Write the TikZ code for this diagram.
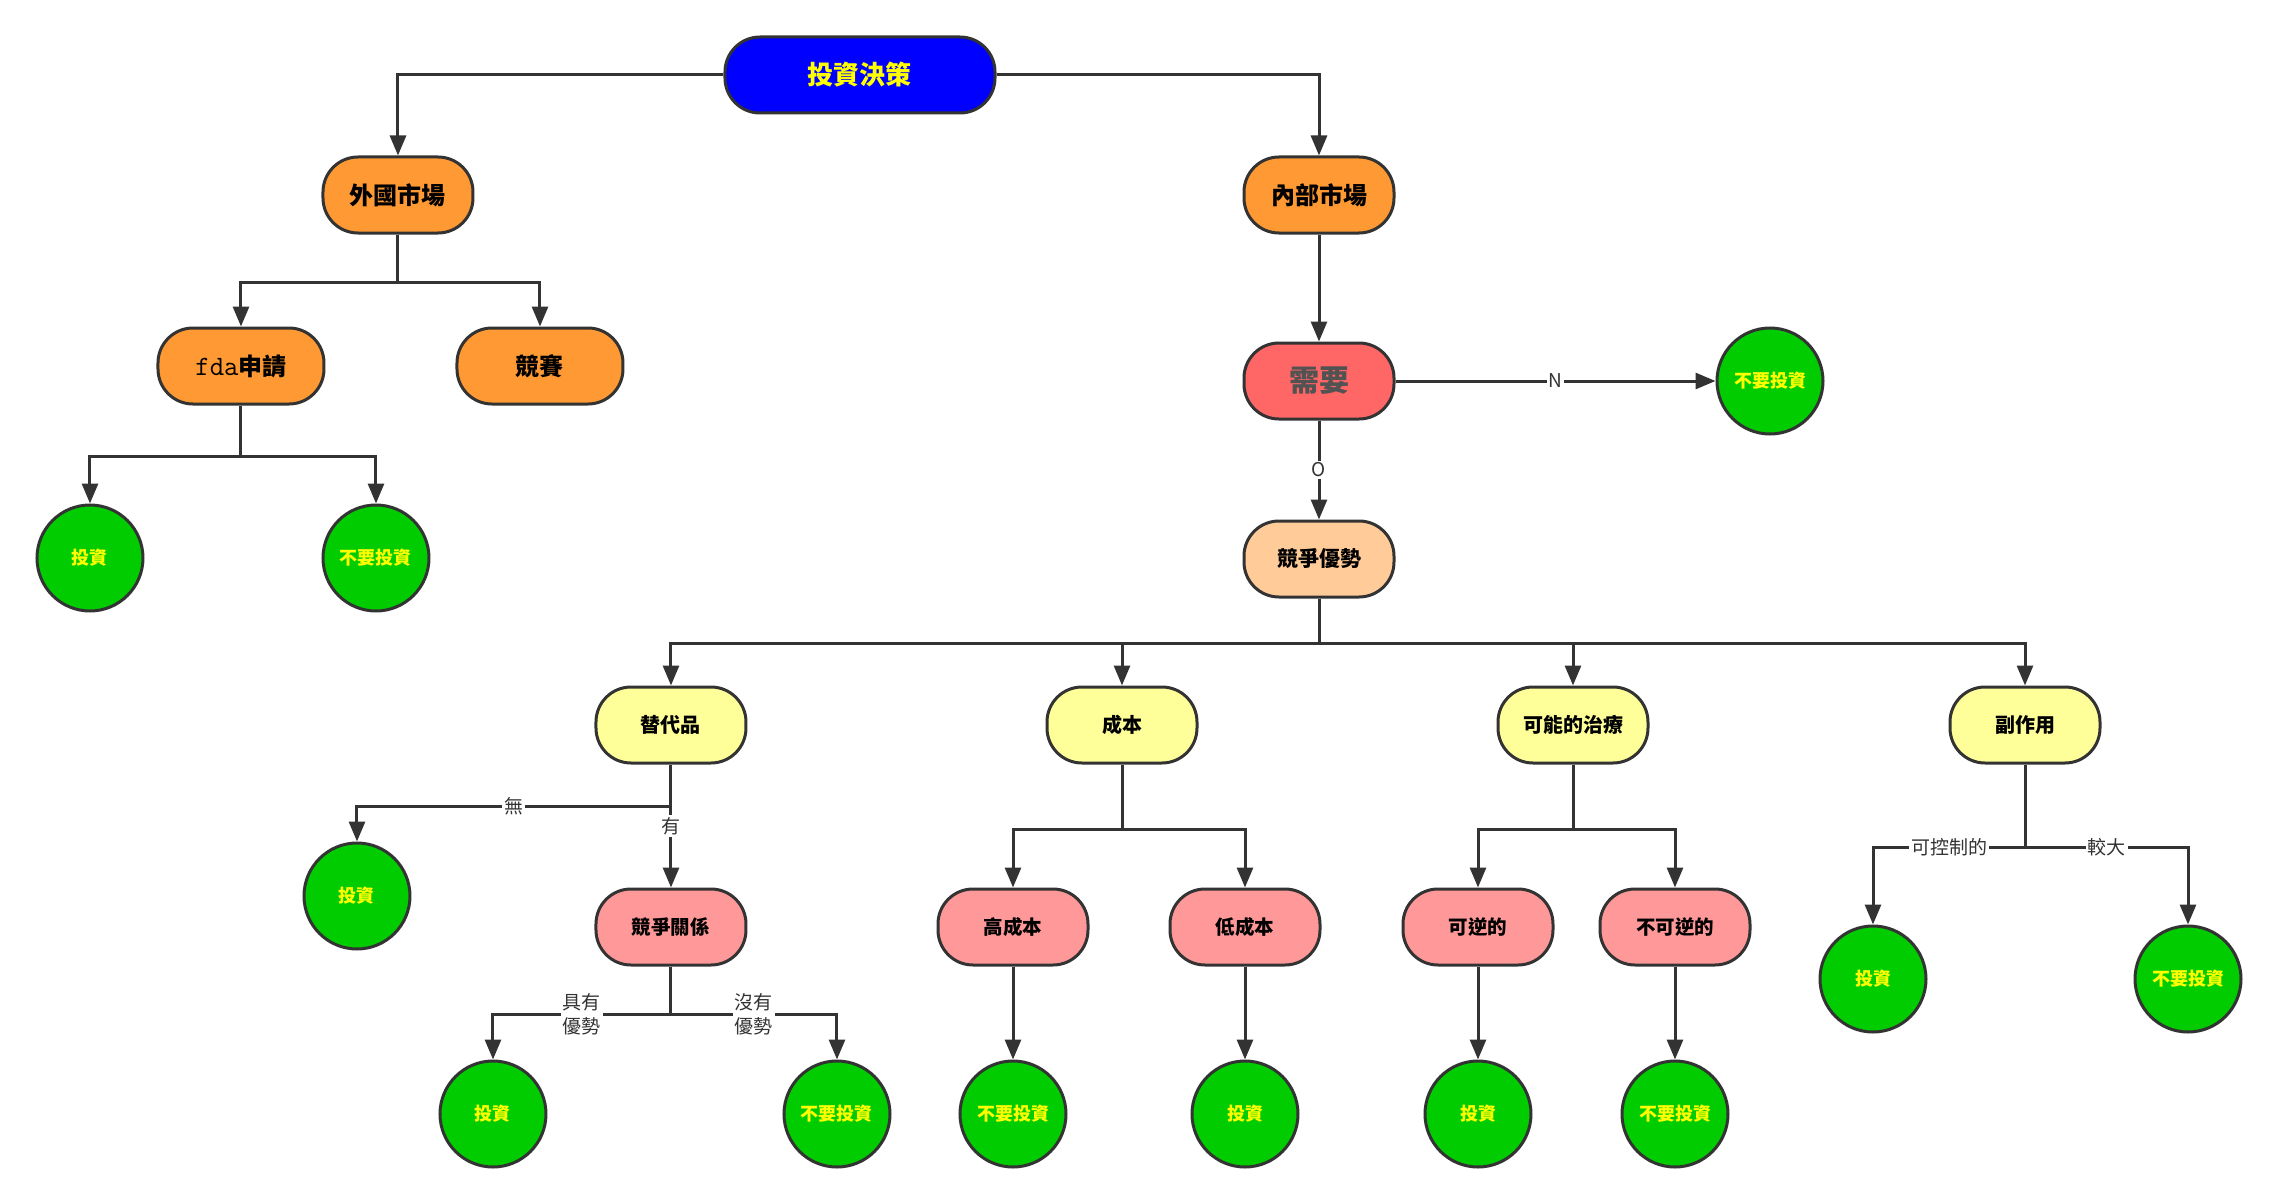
\documentclass[tikz,border=0pt]{standalone}
\usepackage{fontspec}
\setmainfont{Noto Sans CJK TC}
\usetikzlibrary{arrows.meta,positioning}
\definecolor{edge}{HTML}{333333}
\definecolor{topblue}{HTML}{0000FF}
\definecolor{marketorange}{HTML}{FF9933}
\definecolor{needred}{HTML}{FF6666}
\definecolor{advpeach}{HTML}{FFCC99}
\definecolor{factoryellow}{HTML}{FFFF99}
\definecolor{detailpink}{HTML}{FF9999}
\definecolor{leafgreen}{HTML}{00CC00}
\definecolor{leaftext}{HTML}{FFFF00}

\begin{document}
\begin{tikzpicture}[
      x=1pt, y=1pt, on grid,
      pill/.style={rectangle, rounded corners=35pt, draw=edge, line width=3pt, minimum width=150pt, minimum height=76pt, align=center, text=black},
      topbox/.style={pill, fill=topblue, minimum width=270pt, text=leaftext, font=\bfseries\fontsize{26}{30}\selectfont},
      market/.style={pill, fill=marketorange, font=\bfseries\fontsize{24}{28}\selectfont},
      needbox/.style={pill, fill=needred, text=edge!85, font=\bfseries\fontsize{30}{34}\selectfont},
      advbox/.style={pill, fill=advpeach, font=\bfseries\fontsize{21}{25}\selectfont},
      factor/.style={pill, fill=factoryellow, font=\bfseries\fontsize{20}{24}\selectfont},
      detail/.style={pill, fill=detailpink, font=\bfseries\fontsize{19.5}{24}\selectfont},
      leaf/.style={circle, draw=edge, line width=3pt, fill=leafgreen, minimum size=106pt, inner sep=0pt, text=leaftext, font=\bfseries\fontsize{18}{22}\selectfont},
      lbl/.style={fill=white, inner sep=2pt, text=edge, align=center, font=\fontsize{19}{24}\selectfont},
      arrow/.style={draw=edge, line width=3pt, -{Triangle[length=20pt,width=16pt]}}
    ]
    \useasboundingbox (-860,75) rectangle (1418,-1129);

    \node[topbox] (top) at (0,0) {投資決策};
    \node[market, below left=120pt and 462pt of top] (foreign) {外國市場};
    \node[market, below right=120pt and 459pt of top] (inner) {內部市場};
    \node[market, minimum width=166pt, below left=171pt and 157pt of foreign] (fda) {{\mdseries\ttfamily\fontsize{28}{30}\selectfont fda}申請};
    \node[market, minimum width=166pt, below right=171pt and 142pt of foreign] (contest) {競賽};
    \node[leaf, below left=192pt and 151pt of fda] (fdayes) {投資};
    \node[leaf, below right=192pt and 135pt of fda] (fdano) {不要投資};

    \node[needbox, below=186pt of inner] (need) {需要};
    \node[leaf, right=451pt of need] (needno) {不要投資};
    \node[advbox, below=178pt of need] (adv) {競爭優勢};

    \node[factor, below left=166pt and 648pt of adv] (subst) {替代品};
    \node[factor, below left=166pt and 197pt of adv] (cost) {成本};
    \node[factor, below right=166pt and 254pt of adv] (cure) {可能的治療};
    \node[factor, below right=166pt and 706pt of adv] (side) {副作用};

    \node[leaf, below left=171pt and 314pt of subst] (substno) {投資};
    \node[detail, below=202pt of subst] (rel) {競爭關係};
    \node[leaf, below left=187pt and 178pt of rel] (reladv) {投資};
    \node[leaf, below right=187pt and 166pt of rel] (relnone) {不要投資};

    \node[detail, below left=202pt and 109pt of cost] (high) {高成本};
    \node[detail, below right=202pt and 123pt of cost] (low) {低成本};
    \node[leaf, below=187pt of high] (highout) {不要投資};
    \node[leaf, below=187pt of low] (lowout) {投資};

    \node[detail, below left=202pt and 95pt of cure] (rev) {可逆的};
    \node[detail, below right=202pt and 102pt of cure] (irrev) {不可逆的};
    \node[leaf, below=187pt of rev] (revout) {投資};
    \node[leaf, below=187pt of irrev] (irrevout) {不要投資};

    \node[leaf, below left=254pt and 152pt of side] (sidectl) {投資};
    \node[leaf, below right=254pt and 163pt of side] (sidebig) {不要投資};

    \draw[arrow] (top.west) -| (foreign.north);
    \draw[arrow] (top.east) -| (inner.north);
    \draw[arrow] (foreign.south) -- ++(0,-48) -| (fda.north);
    \draw[arrow] (foreign.south) -- ++(0,-48) -| (contest.north);
    \draw[arrow] (fda.south) -- ++(0,-51) -| (fdayes.north);
    \draw[arrow] (fda.south) -- ++(0,-51) -| (fdano.north);

    \draw[arrow] (inner) -- (need);
    \draw[arrow] (need) -- node[lbl] {N} (needno);
    \draw[arrow] (need) -- node[lbl] {O} (adv);
    \foreach \n in {subst,cost,cure,side}
      \draw[arrow] (adv.south) -- ++(0,-45) -| (\n.north);

    \draw[arrow] (subst.south) -- ++(0,-42) -| node[lbl, pos=0.25] {無} (substno.north);
    \draw[arrow] (subst) -- node[lbl] {有} (rel);
    \draw[arrow] (rel.south) -- ++(0,-48) -| node[lbl, pos=0.25] {具有\\優勢} (reladv.north);
    \draw[arrow] (rel.south) -- ++(0,-48) -| node[lbl, pos=0.25] {沒有\\優勢} (relnone.north);

    \foreach \n in {high,low}
      \draw[arrow] (cost.south) -- ++(0,-65) -| (\n.north);
    \draw[arrow] (high) -- (highout);
    \draw[arrow] (low) -- (lowout);

    \foreach \n in {rev,irrev}
      \draw[arrow] (cure.south) -- ++(0,-65) -| (\n.north);
    \draw[arrow] (rev) -- (revout);
    \draw[arrow] (irrev) -- (irrevout);

    \draw[arrow] (side.south) -- ++(0,-83) -| node[lbl, pos=0.25] {可控制的} (sidectl.north);
    \draw[arrow] (side.south) -- ++(0,-83) -| node[lbl, pos=0.25] {較大} (sidebig.north);
  \end{tikzpicture}
\end{document}
